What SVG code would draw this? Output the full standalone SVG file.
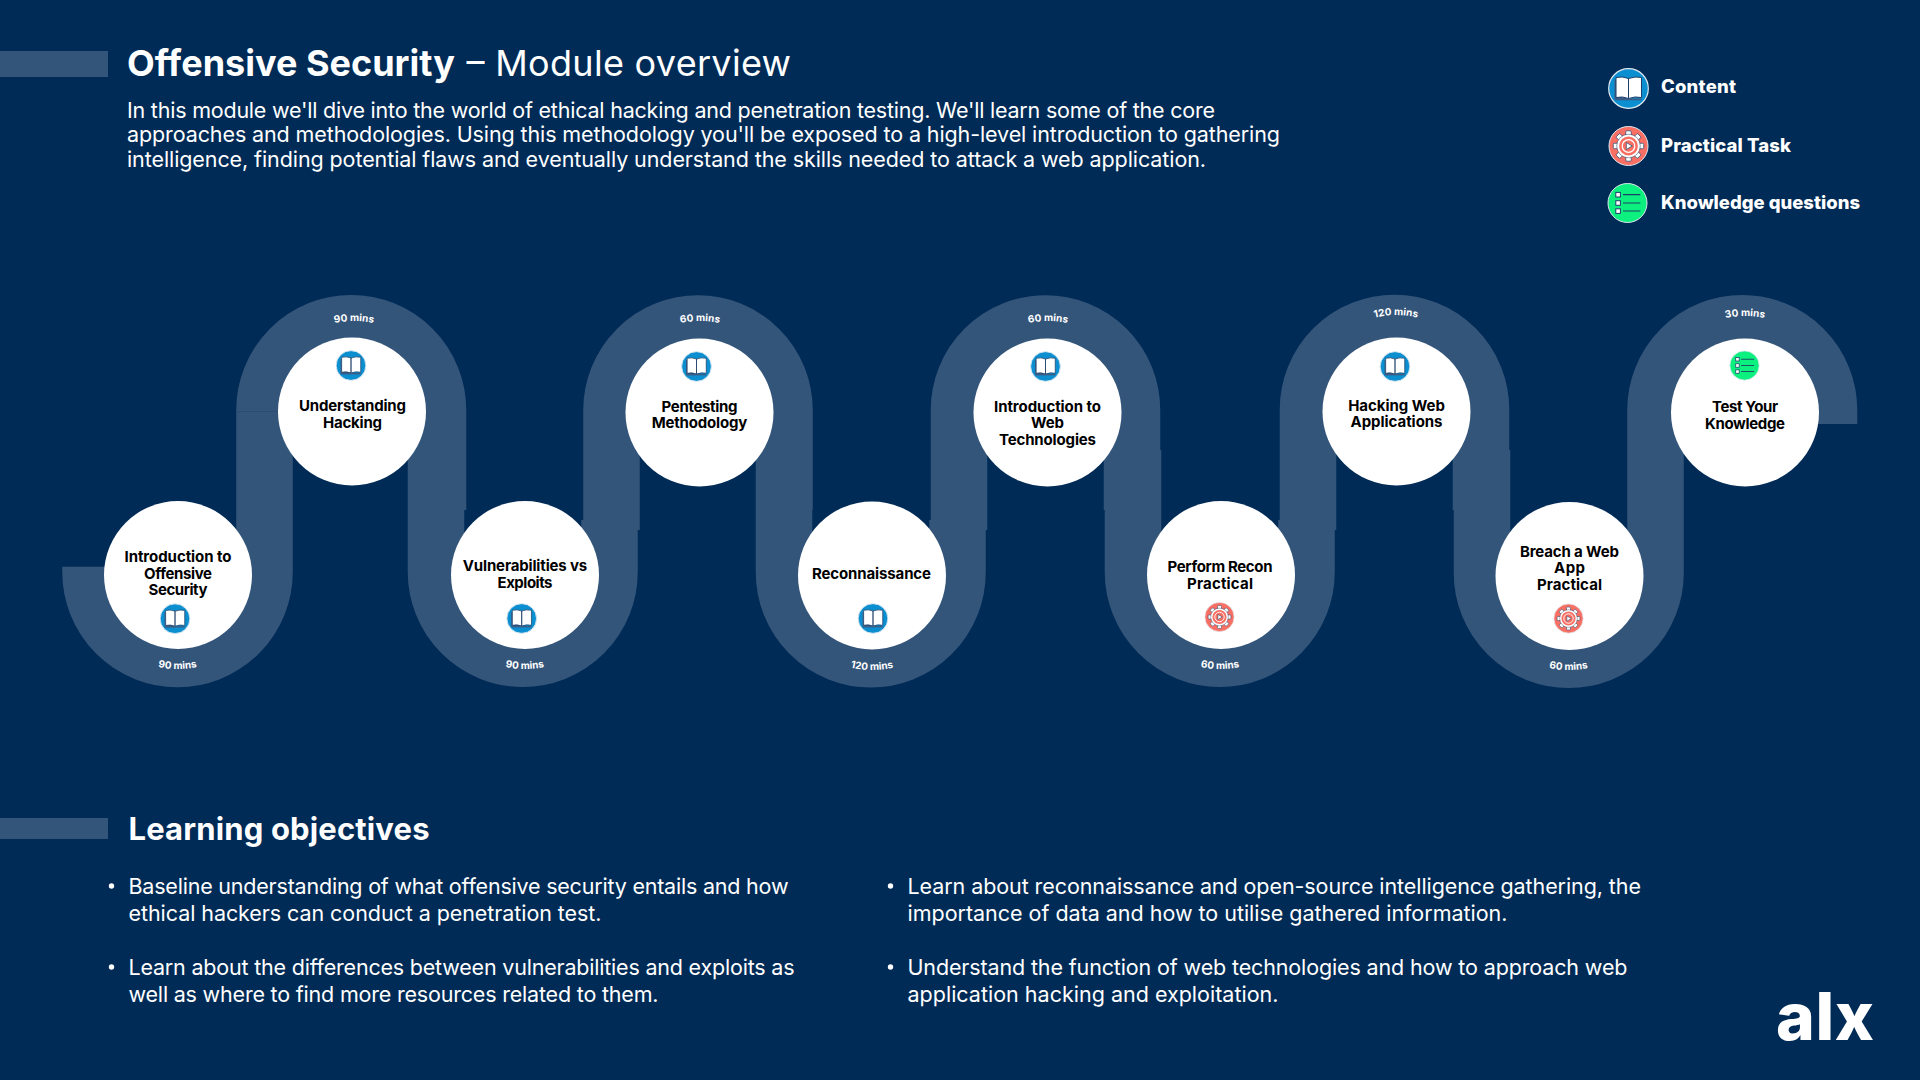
<svg xmlns="http://www.w3.org/2000/svg" width="1920" height="1080" viewBox="0 0 1920 1080">
<style>
text{font-family:Inter,"Noto Sans",sans-serif;fill:#fff}
.body{font-size:21.5px;font-weight:400}
.h1b{font-size:36px;font-weight:700}
.h1r{font-size:36px;font-weight:400}
.h2{font-size:31px;font-weight:700}
.leg{font-size:18.5px;font-weight:800}
.node{font-size:15px;font-weight:700;fill:#000;text-anchor:middle}
.dur{font-size:10px;font-weight:700;text-anchor:middle}
.bar{fill:#34557a}
.band{fill:none;stroke:#34557a;stroke-width:56.5}
.disc{fill:#fff}
</style>
<defs>
<g id="ibook">
<circle r="19.8" fill="#0b8fd0" stroke="#dfe8ef" stroke-width="1.2"/>
<path d="M-14-8.500V11.500H0V-8.500Z" fill="#3c5d85"/>
<path d="M-12.500-11q6.500-1.500 12.500 1v20q-6-2.500-12.500-1zM13-11q-6.500-1.500-13 1v20q6.500-2.500 13-1z" fill="#fff" stroke="#1d3f68" stroke-width="1"/>
<path d="M-13 10h26v1.800h-26z" fill="#3c5d85"/>
</g>
<g id="tooth"><rect x="-2.700" y="-15.200" width="5.400" height="5.500" rx="1" fill="#fff" stroke="#1d3f68" stroke-width=".7"/></g>
<g id="igear">
<circle r="19.500" fill="#f96f63" stroke="#dfe8ef" stroke-width="1"/>
<use href="#tooth"/><use href="#tooth" transform="rotate(45)"/><use href="#tooth" transform="rotate(90)"/><use href="#tooth" transform="rotate(135)"/><use href="#tooth" transform="rotate(180)"/><use href="#tooth" transform="rotate(225)"/><use href="#tooth" transform="rotate(270)"/><use href="#tooth" transform="rotate(315)"/>
<circle r="10.500" fill="#f96f63" stroke="#fff" stroke-width="2.200"/>
<circle r="11.800" fill="none" stroke="#1d3f68" stroke-width=".5"/>
<circle r="6.300" fill="#f96f63" stroke="#fff" stroke-width="1.200"/>
<path d="M-2.200-3.500L3.800 0L-2.200 3.500Z" fill="#fff" stroke="#1d3f68" stroke-width=".7"/>
</g>
<g id="ilist">
<circle r="19.500" fill="#0cf07f" stroke="#dfe8ef" stroke-width="1"/>
<g fill="#fff" stroke="#1d3f68" stroke-width="1"><rect x="-11.700" y="-10.600" width="4.600" height="4.600"/><rect x="-11.700" y="-2.300" width="4.600" height="4.600"/><rect x="-11.700" y="5.800" width="4.600" height="4.600"/></g>
<path d="M-4.500-8.300H12.800M-4.500 0H12.800M-4.500 8H12.800" stroke="#1d3f68" stroke-width="1.200" fill="none"/>
</g>
<path id="b1" d="M80.500 572A97 97 0 0 0 274.500 572"/>
<path id="b2" d="M427.700 572A97 97 0 0 0 621.700 572"/>
<path id="b3" d="M775 573A97 97 0 0 0 969 573"/>
<path id="b4" d="M1123 572A97 97 0 0 0 1317 572"/>
<path id="b5" d="M1471.600 573A97 97 0 0 0 1665.600 573"/>
<path id="t1" d="M266 409A88 88 0 0 1 442 409"/>
<path id="t2" d="M612 409A88 88 0 0 1 788 409"/>
<path id="t3" d="M960 409A88 88 0 0 1 1136 409"/>
<path id="t4" d="M1308 403A88 88 0 0 1 1484 403"/>
<path id="t5" d="M1657 404A88 88 0 0 1 1833 404"/>
</defs>
<rect width="1920" height="1080" fill="#002b56"/>

<g id="header">
<rect class="bar" x="0" y="51" width="108" height="26"/>
<text class="h1b" x="127" y="76" textLength="328">Offensive Security</text>
<text class="h1r" x="466.500" y="76" textLength="324.500">– Module overview</text>
<text class="body" x="127" y="117.500" textLength="1088">In this module we'll dive into the world of ethical hacking and penetration testing. We'll learn some of the core</text>
<text class="body" x="127" y="142" textLength="1153">approaches and methodologies. Using this methodology you'll be exposed to a high-level introduction to gathering</text>
<text class="body" x="127" y="166.500" textLength="1079">intelligence, finding potential flaws and eventually understand the skills needed to attack a web application.</text>
</g>

<g id="legend">
<use href="#ibook" transform="translate(1628.500 88.500)"/>
<text class="leg" x="1661" y="93" textLength="75">Content</text>
<use href="#igear" transform="translate(1628.500 146)"/>
<text class="leg" x="1661" y="152" textLength="130">Practical Task</text>
<use href="#ilist" transform="translate(1627.500 203)"/>
<text class="leg" x="1661" y="209" textLength="199">Knowledge questions</text>
</g>

<g id="connectors">
<path class="band" d="M90.500 566.700V572A86.750 86.750 0 0 0 264.500 572V520
M264.500 530V410A86.750 86.750 0 0 1 438 410V510
M436 450V572A86.750 86.750 0 0 0 609.500 572V520
M611.500 530V410A86.500 86.500 0 0 1 784.500 410V510
M784 450V572.500A86.500 86.500 0 0 0 957.500 572.500V520
M959 530V410A86.500 86.500 0 0 1 1132 410V510
M1133 450V572A86.500 86.500 0 0 0 1306.500 572V520
M1308 530V409.500A86.500 86.500 0 0 1 1481 409.500V510
M1482 450V573A86.500 86.500 0 0 0 1655.500 573V520
M1655.500 530V410A86.750 86.750 0 0 1 1829 410V424"/>
<path d="M236 411.500H280" stroke="#2a4c74" stroke-width="1" fill="none"/>
</g>

<g id="durations">
<text class="dur"><textPath href="#b1" startOffset="50%">90 mins</textPath></text>
<text class="dur"><textPath href="#t1" startOffset="50%">90 mins</textPath></text>
<text class="dur"><textPath href="#b2" startOffset="50%">90 mins</textPath></text>
<text class="dur"><textPath href="#t2" startOffset="50%">60 mins</textPath></text>
<text class="dur"><textPath href="#b3" startOffset="50%">120 mins</textPath></text>
<text class="dur"><textPath href="#t3" startOffset="50%">60 mins</textPath></text>
<text class="dur"><textPath href="#b4" startOffset="50%">60 mins</textPath></text>
<text class="dur"><textPath href="#t4" startOffset="50%">120 mins</textPath></text>
<text class="dur"><textPath href="#b5" startOffset="50%">60 mins</textPath></text>
<text class="dur"><textPath href="#t5" startOffset="50%">30 mins</textPath></text>
</g>

<g id="node-1"><circle class="disc" cx="178" cy="575" r="74"/>
<text class="node" x="178" y="562" textLength="107">Introduction to</text><text class="node" x="178" y="578.500" textLength="68">Offensive</text><text class="node" x="178" y="594.500" textLength="59">Security</text>
<use href="#ibook" transform="translate(175 618.700) scale(.75)"/></g>
<g id="node-2"><circle class="disc" cx="352" cy="411.500" r="74"/>
<text class="node" x="352.500" y="411" textLength="107">Understanding</text><text class="node" x="352.500" y="427.500" textLength="59">Hacking</text>
<use href="#ibook" transform="translate(351 365.500) scale(.75)"/></g>
<g id="node-3"><circle class="disc" cx="525" cy="575" r="74"/>
<text class="node" x="525" y="571" textLength="124.500">Vulnerabilities vs</text><text class="node" x="525" y="588" textLength="55">Exploits</text>
<use href="#ibook" transform="translate(521.700 618.500) scale(.75)"/></g>
<g id="node-4"><circle class="disc" cx="699.500" cy="412.500" r="74"/>
<text class="node" x="699.500" y="412" textLength="76">Pentesting</text><text class="node" x="699.500" y="428" textLength="95.500">Methodology</text>
<use href="#ibook" transform="translate(696.500 366.500) scale(.75)"/></g>
<g id="node-5"><circle class="disc" cx="872" cy="575.500" r="74"/>
<text class="node" x="871.500" y="579" textLength="119">Reconnaissance</text>
<use href="#ibook" transform="translate(873 618.500) scale(.75)"/></g>
<g id="node-6"><circle class="disc" cx="1047.500" cy="412.500" r="74"/>
<text class="node" x="1047.500" y="412" textLength="107">Introduction to</text><text class="node" x="1047.500" y="428" textLength="33">Web</text><text class="node" x="1047.500" y="445" textLength="97">Technologies</text>
<use href="#ibook" transform="translate(1045.500 366.500) scale(.75)"/></g>
<g id="node-7"><circle class="disc" cx="1221" cy="575" r="74"/>
<text class="node" x="1220" y="572" textLength="105">Perform Recon</text><text class="node" x="1220" y="589" textLength="66">Practical</text>
<use href="#igear" transform="translate(1219.500 617) scale(.75)"/></g>
<g id="node-8"><circle class="disc" cx="1396.500" cy="411.500" r="74"/>
<text class="node" x="1396.500" y="411" textLength="96.700">Hacking Web</text><text class="node" x="1396.500" y="427" textLength="92">Applications</text>
<use href="#ibook" transform="translate(1395 366.500) scale(.75)"/></g>
<g id="node-9"><circle class="disc" cx="1569.500" cy="576" r="74"/>
<text class="node" x="1569.500" y="557" textLength="99">Breach a Web</text><text class="node" x="1569.500" y="573" textLength="31">App</text><text class="node" x="1569.500" y="590" textLength="65">Practical</text>
<use href="#igear" transform="translate(1568.500 618.500) scale(.75)"/></g>
<g id="node-10"><circle class="disc" cx="1745" cy="412.500" r="74"/>
<text class="node" x="1745" y="412" textLength="66">Test Your</text><text class="node" x="1745" y="428.500" textLength="80">Knowledge</text>
<use href="#ilist" transform="translate(1744.500 365.500) scale(.75)"/></g>

<g id="objectives">
<rect class="bar" x="0" y="818" width="108" height="21"/>
<text class="h2" x="128.500" y="840" textLength="301">Learning objectives</text>
<circle cx="111.500" cy="886" r="2.700" fill="#fff"/>
<text class="body" x="128.500" y="894" textLength="660">Baseline understanding of what offensive security entails and how</text>
<text class="body" x="128.500" y="921" textLength="473">ethical hackers can conduct a penetration test.</text>
<circle cx="111.500" cy="967" r="2.700" fill="#fff"/>
<text class="body" x="128.500" y="975" textLength="666">Learn about the differences between vulnerabilities and exploits as</text>
<text class="body" x="128.500" y="1002" textLength="530">well as where to find more resources related to them.</text>
<circle cx="890.500" cy="886" r="2.700" fill="#fff"/>
<text class="body" x="907.500" y="894" textLength="733.500">Learn about reconnaissance and open-source intelligence gathering, the</text>
<text class="body" x="907.500" y="921" textLength="600">importance of data and how to utilise gathered information.</text>
<circle cx="890.500" cy="967" r="2.700" fill="#fff"/>
<text class="body" x="907.500" y="975" textLength="720">Understand the function of web technologies and how to approach web</text>
<text class="body" x="907.500" y="1002" textLength="371">application hacking and exploitation.</text>
</g>

<g id="logo"><text x="1776" y="1039.500" textLength="98" style="font-size:66px;font-weight:800">alx</text></g>
</svg>
